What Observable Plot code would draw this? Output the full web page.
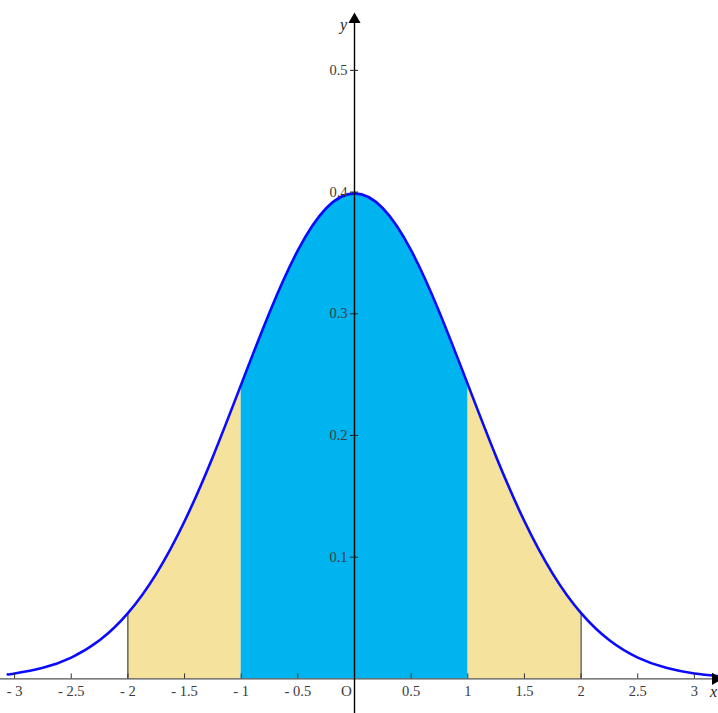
<!DOCTYPE html>
<html>
<head>
<meta charset="utf-8">
<script src="https://cdn.jsdelivr.net/npm/d3@7"></script>
<script src="https://cdn.jsdelivr.net/npm/@observablehq/plot@0.6"></script>
<style>
  html, body { margin: 0; padding: 0; background: #fff; }
  #chart svg { display: block; }
</style>
</head>
<body>
<div id="chart"></div>
<script>
// Curve samples (density of the bell curve)
const curveX = [-3.06, -3, -2.75, -2.5, -2.25, -2, -1.75, -1.5, -1.25, -1, -0.75, -0.5, -0.25, 0, 0.25, 0.5, 0.75, 1, 1.25, 1.5, 1.75, 2, 2.25, 2.5, 2.75, 3, 3.2];
const curveY = [0.0037, 0.0044, 0.0091, 0.0175, 0.0317, 0.0540, 0.0863, 0.1295, 0.1826, 0.2420, 0.3011, 0.3521, 0.3867, 0.3989, 0.3867, 0.3521, 0.3011, 0.2420, 0.1826, 0.1295, 0.0863, 0.0540, 0.0317, 0.0175, 0.0091, 0.0044, 0.0024];

// Shaded bands
const innerBand = [-1, 1];
const outerBands = [[-2, -1], [1, 2]];
const boundaryLines = [-2, 2];

// Axis ticks and labels
const xTicks = [-3, -2.5, -2, -1.5, -1, -0.5, 0.5, 1, 1.5, 2, 2.5, 3];
const xTickLabels = ["- 3", "- 2.5", "- 2", "- 1.5", "- 1", "- 0.5", "0.5", "1", "1.5", "2", "2.5", "3"];
const yTicks = [0.1, 0.2, 0.3, 0.4, 0.5];
const yTickLabels = ["0.1", "0.2", "0.3", "0.4", "0.5"];

const curve = curveX.map((x, i) => ({x, y: curveY[i]}));
const inRange = (a, b) => curve.filter(d => d.x >= a - 1e-9 && d.x <= b + 1e-9);
const yAt = x => curve.find(d => Math.abs(d.x - x) < 1e-9).y;

const W = 718, H = 713;
const xDomain = [-3.1245, 3.2127];
const yDomain = [-0.02843, 0.5574];
const pxX = (xDomain[1] - xDomain[0]) / W;   // data units per px
const pxY = (yDomain[1] - yDomain[0]) / H;

const font = "'Liberation Serif', 'Times New Roman', serif";
const labelColor = "#3a3a3a";

const plot = Plot.plot({
  width: W,
  height: H,
  margin: 0,
  x: {domain: xDomain, axis: null},
  y: {domain: yDomain, axis: null},
  style: {fontFamily: font, background: "#fff", overflow: "visible"},
  marks: [
    // fills
    ...outerBands.map(([a, b]) =>
      Plot.areaY(inRange(a, b), {x: "x", y: "y", curve: "natural", fill: "#f4e29d"})),
    Plot.areaY(inRange(innerBand[0], innerBand[1]), {x: "x", y: "y", curve: "natural", fill: "#00b4ef"}),
    // boundary lines at ±2
    Plot.ruleX(boundaryLines, {x: d => d, y1: 0, y2: d => yAt(d), stroke: "#222", strokeWidth: 1}),
    // curve
    Plot.line(curve, {x: "x", y: "y", curve: "natural", stroke: "#0a0aff", strokeWidth: 2.6}),
    // x axis
    Plot.ruleY([0], {x1: xDomain[0], x2: xDomain[1] - 2 * pxX, stroke: "#555", strokeWidth: 1.3}),
    Plot.ruleX(xTicks, {x: d => d, y1: 0, y2: 5 * pxY, stroke: "#333", strokeWidth: 1}),
    Plot.text(xTicks, {x: d => d, y: 0, text: (d, i) => xTickLabels[i], dy: 12, fontSize: 14.5, fill: labelColor}),
    Plot.text(["O"], {x: 0, y: 0, text: d => d, dy: 12, dx: -8, fontSize: 15, fill: labelColor}),
    Plot.dot([0], {x: xDomain[1] - 3 * pxX, y: 0, symbol: "triangle", r: 4.5, rotate: 90, fill: "#000", stroke: "none"}),
    Plot.text(["x"], {x: xDomain[1] - 5 * pxX, y: 0, text: d => d, dy: 13, fontSize: 16, fontStyle: "italic", fill: "#222"}),
    // y axis
    Plot.ruleX([0], {y1: yDomain[0], y2: yDomain[1] - 16 * pxY, stroke: "#000", strokeWidth: 1.4}),
    Plot.ruleY(yTicks, {y: d => d, x1: -4 * pxX, x2: 4 * pxX, stroke: "#222", strokeWidth: 1}),
    Plot.text(yTicks, {x: 0, y: d => d, text: (d, i) => yTickLabels[i], dx: -7, textAnchor: "end", fontSize: 14.5, fill: labelColor}),
    Plot.dot([0], {x: 0, y: yDomain[1] - 19 * pxY, symbol: "triangle", r: 4.5, fill: "#000", stroke: "none"}),
    Plot.text(["y"], {x: 0, y: yDomain[1] - 24 * pxY, text: d => d, dx: -11, fontSize: 16, fontStyle: "italic", fill: "#222"})
  ]
});

document.getElementById("chart").appendChild(plot);
</script>
</body>
</html>
